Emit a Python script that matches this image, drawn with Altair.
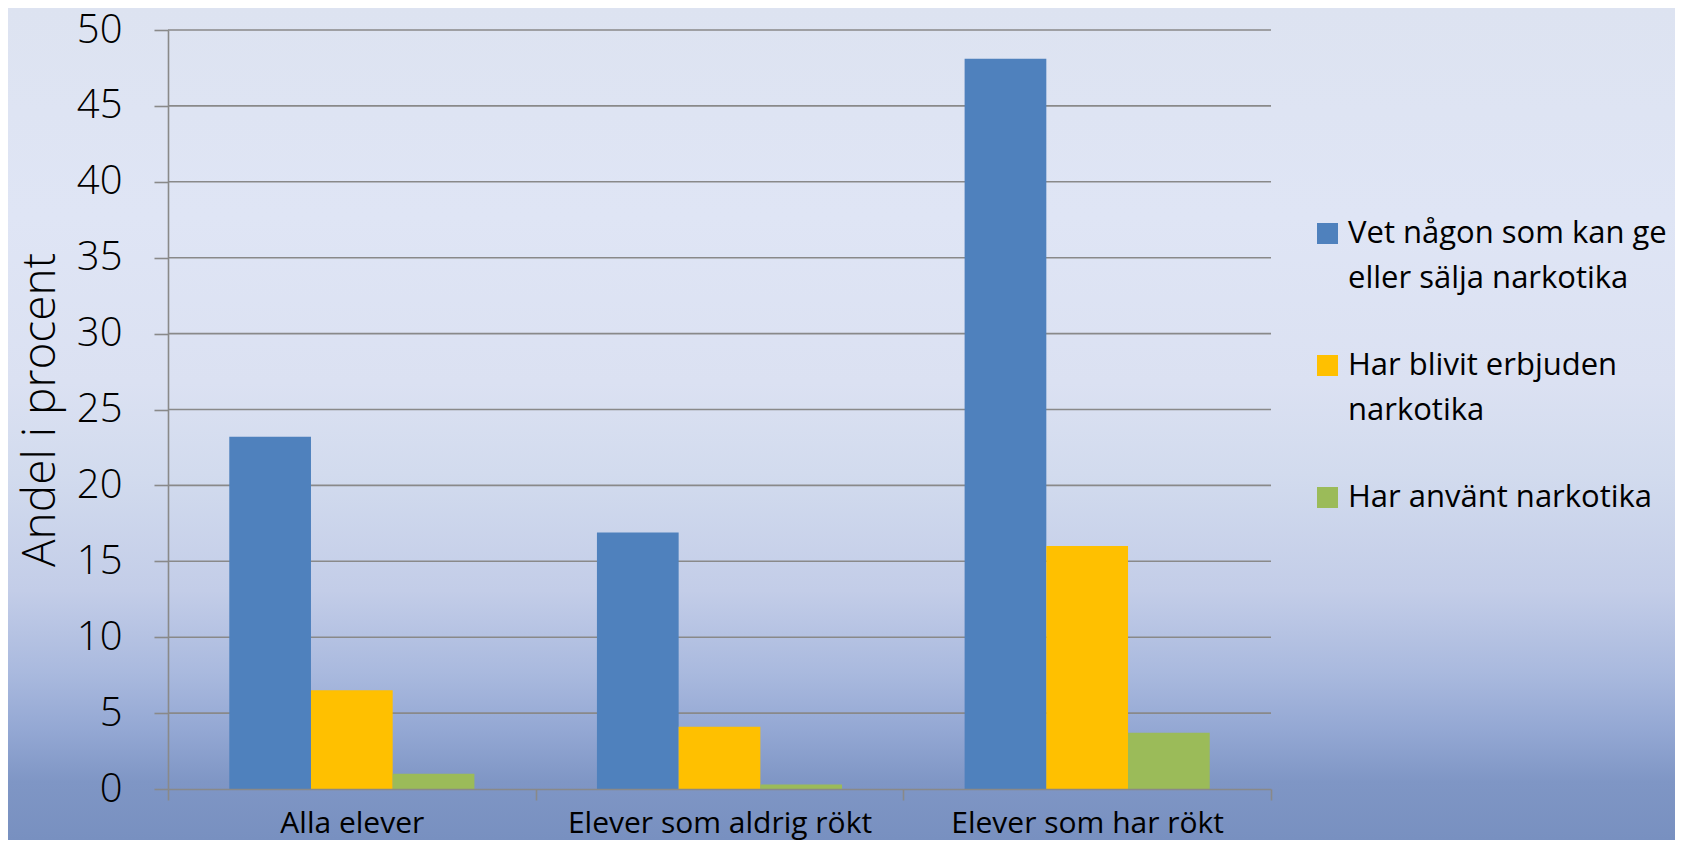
import altair as alt
import pandas as pd

# ---- data ----
categories = ["Alla elever", "Elever som aldrig rökt", "Elever som har rökt"]
series = [
    "Vet någon som kan ge\neller sälja narkotika",
    "Har blivit erbjuden\nnarkotika",
    "Har använt narkotika",
]
vet_nagon = [23.2, 16.9, 48.1]
erbjuden = [6.5, 4.1, 16.0]
anvant = [1.0, 0.3, 3.7]
y_ticks = [0, 5, 10, 15, 20, 25, 30, 35, 40, 45, 50]
colors = ["#4f81bd", "#ffc000", "#9bbb59"]

rows = []
for s, vals in zip(series, [vet_nagon, erbjuden, anvant]):
    for c, v in zip(categories, vals):
        rows.append({"Grupp": c, "Serie": s, "Andel": v})
df = pd.DataFrame(rows)
grid_df = pd.DataFrame({"Andel": y_ticks[1:]})

W, H = 1103, 759
PL, PT, PR, PB = 160, 22, 404, 51
FONT = "Open Sans"
GRAY = "#898989"

y_axis = alt.Axis(
    values=y_ticks, grid=False, tickSize=14, tickColor=GRAY, tickWidth=1.6,
    domainColor=GRAY, domainWidth=1.6,
    labelFont=FONT, labelFontSize=40, labelFontWeight=300, labelColor="black",
    labelPadding=32,
    title="Andel i procent", titleFont=FONT, titleFontSize=46,
    titleFontWeight=300, titleColor="black",
    titleX=-114, titleY=H / 2, titleAlign="center", titleBaseline="alphabetic",
    zindex=1,
)
y_scale = alt.Scale(domain=[0, 50], nice=False)

bg = alt.Chart(pd.DataFrame({"a": [0]})).mark_rect(
    color=alt.Gradient(
        gradient="linear", x1=0, x2=0, y1=0, y2=1,
        stops=[
            alt.GradientStop(color="#dde3f1", offset=0.0),
            alt.GradientStop(color="#dfe5f5", offset=0.25),
            alt.GradientStop(color="#dbe1f2", offset=0.45),
            alt.GradientStop(color="#d2dbee", offset=0.56),
            alt.GradientStop(color="#c3cde8", offset=0.70),
            alt.GradientStop(color="#a9b9de", offset=0.80),
            alt.GradientStop(color="#93a7d3", offset=0.87),
            alt.GradientStop(color="#7f96c5", offset=0.93),
            alt.GradientStop(color="#7890c0", offset=1.0),
        ],
    )
).encode(
    x=alt.value(-PL), x2=alt.value(W + PR), y=alt.value(-PT), y2=alt.value(H + PB)
)

grid = alt.Chart(grid_df).mark_rule(color=GRAY, strokeWidth=1.6).encode(
    y=alt.Y("Andel:Q", scale=y_scale, axis=y_axis),
    x=alt.value(0), x2=alt.value(W),
)

legend_expr = "split(datum.label, '\\n')"

bars = alt.Chart(df).mark_bar().encode(
    x=alt.X(
        "Grupp:N", sort=categories,
        scale=alt.Scale(paddingInner=0, paddingOuter=0),
        axis=alt.Axis(
            title=None, labelAngle=0, tickBand="extent", tickSize=11,
            tickColor=GRAY, tickWidth=1.6, domainColor=GRAY, domainWidth=1.6,
            labelFont=FONT, labelFontSize=30, labelColor="black",
            labelPadding=8, labelLimit=0, zindex=1,
        ),
    ),
    xOffset=alt.XOffset(
        "Serie:N", sort=series,
        scale=alt.Scale(paddingInner=0, paddingOuter=0.75),
    ),
    y=alt.Y("Andel:Q", scale=y_scale, axis=y_axis),
    color=alt.Color(
        "Serie:N", sort=series,
        scale=alt.Scale(domain=series, range=colors),
        legend=alt.Legend(
            orient="none", legendX=1144, legendY=188, title=None,
            symbolType="square", symbolSize=441, symbolStrokeWidth=0,
            labelFont=FONT, labelFontSize=31, labelColor="black",
            labelOffset=5, labelLimit=0, rowPadding=55, padding=0,
            labelExpr=legend_expr,
        ),
    ),
)

chart = alt.layer(bg, grid, bars).properties(
    width=W, height=H,
    autosize=alt.AutoSizeParams(type="none"),
    padding={"left": PL, "top": PT, "right": PR, "bottom": PB},
    background="#dfe4f3",
).configure(
    style={"guide-label": {"lineHeight": 45}}
).configure_view(stroke=None)

chart.save("out.html", embed_options={"renderer": "svg", "actions": False})
